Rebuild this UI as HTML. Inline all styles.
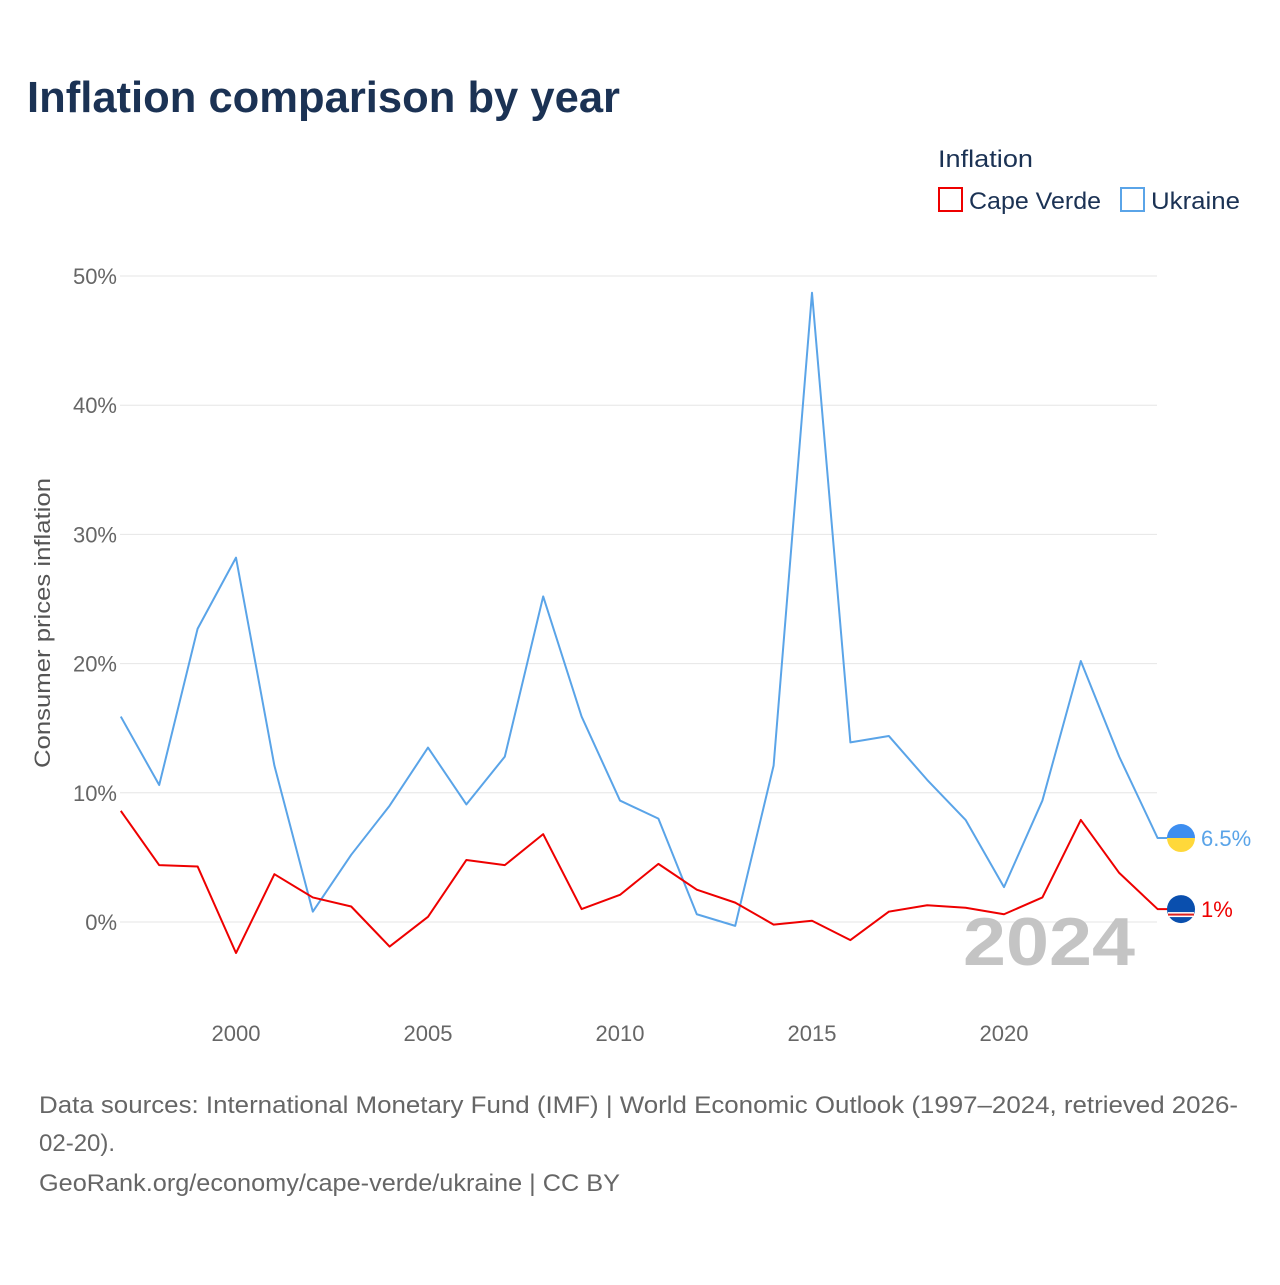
<!DOCTYPE html>
<html><head><meta charset="utf-8"><style>
body{margin:0;background:#fff;width:1280px;height:1280px;overflow:hidden;font-family:"Liberation Sans",sans-serif}
</style></head><body>
<svg width="1280" height="1280" xmlns="http://www.w3.org/2000/svg">
<text x="27" y="112" font-size="44" font-weight="bold" fill="#1b3254" textLength="593" lengthAdjust="spacingAndGlyphs">Inflation comparison by year</text>
<text x="938" y="167" font-size="24" fill="#1b3254" textLength="95" lengthAdjust="spacingAndGlyphs">Inflation</text>
<g><rect x="939" y="188" width="23" height="23" fill="none" stroke="#e00" stroke-width="2"/><text x="969" y="209" font-size="24" fill="#1b3254" textLength="132" lengthAdjust="spacingAndGlyphs">Cape Verde</text></g>
<g><rect x="1121" y="188" width="23" height="23" fill="none" stroke="#5aa4e8" stroke-width="2"/><text x="1151" y="209" font-size="24" fill="#1b3254" textLength="89" lengthAdjust="spacingAndGlyphs">Ukraine</text></g>
<g id="grid"></g><g id="ylabels"></g><g id="xlabels"></g>
<text transform="translate(50,623) rotate(-90)" text-anchor="middle" font-size="22" fill="#555" textLength="290" lengthAdjust="spacingAndGlyphs">Consumer prices inflation</text>
<text x="963" y="965" font-size="68" font-weight="bold" fill="#c4c4c4" textLength="172" lengthAdjust="spacingAndGlyphs">2024</text>
<g id="lines"></g>
<text x="39" y="1113" font-size="24" fill="#666" textLength="1199" lengthAdjust="spacingAndGlyphs">Data sources: International Monetary Fund (IMF) | World Economic Outlook (1997–2024, retrieved 2026-</text>
<text x="39" y="1151" font-size="24" fill="#666">02-20).</text>
<text x="39" y="1191" font-size="24" fill="#666" textLength="581" lengthAdjust="spacingAndGlyphs">GeoRank.org/economy/cape-verde/ukraine | CC BY</text>
</svg>
<script>
const years=[1997,1998,1999,2000,2001,2002,2003,2004,2005,2006,2007,2008,2009,2010,2011,2012,2013,2014,2015,2016,2017,2018,2019,2020,2021,2022,2023,2024];
const ukraine=[15.9,10.6,22.7,28.2,12.1,0.8,5.2,9.0,13.5,9.1,12.8,25.2,15.9,9.4,8.0,0.6,-0.3,12.1,48.7,13.9,14.4,11.0,7.9,2.7,9.4,20.2,12.8,6.5];
const capeVerde=[8.6,4.4,4.3,-2.4,3.7,1.9,1.2,-1.9,0.4,4.8,4.4,6.8,1.0,2.1,4.5,2.5,1.5,-0.2,0.1,-1.4,0.8,1.3,1.1,0.6,1.9,7.9,3.8,1.0];
const yTicks=[0,10,20,30,40,50];
const xTicks=[2000,2005,2010,2015,2020];
const NS="http://www.w3.org/2000/svg";
const X=y=>120.8+(y-1997)*38.4;
const Y=v=>922-v*12.92;
function mk(t,a,p){const e=document.createElementNS(NS,t);for(const k in a)e.setAttribute(k,a[k]);p.appendChild(e);return e;}
const grid=document.getElementById('grid'),yl=document.getElementById('ylabels'),xl=document.getElementById('xlabels'),lines=document.getElementById('lines');
yTicks.forEach(v=>{
 const l=mk('line',{x1:120,x2:1157,y1:Y(v),y2:Y(v),stroke:'#e6e6e6','stroke-width':1},grid);
 
 
 const t=mk('text',{x:117,y:Y(v)+8,'text-anchor':'end','font-size':22,fill:'#666'},yl);t.textContent=v+'%';
 
 
});
xTicks.forEach(v=>{
 const t=mk('text',{x:X(v),y:1041,'text-anchor':'middle','font-size':22,fill:'#666'},xl);t.textContent=v;
 
 
});
function series(vals,color,name){
 let d=vals.map((v,i)=>(i?'L':'M')+X(years[i])+','+Y(v)).join(' ');
 d+=' L1168,'+Y(vals[vals.length-1]);
 const p=mk('path',{d:d,fill:'none',stroke:color,'stroke-width':2,'stroke-linejoin':'round'},lines);
 
 
}
series(ukraine,'#5aa4e8','ukraine');
series(capeVerde,'#e00','cape-verde');
const uy=Y(ukraine[ukraine.length-1]),cy=Y(capeVerde[capeVerde.length-1]);
const fu=mk('g',{},lines);


mk('path',{d:`M1167,${uy} a14,14 0 0 1 28,0 z`,fill:'#3d8ef0'},fu);
mk('path',{d:`M1167,${uy} a14,14 0 0 0 28,0 z`,fill:'#ffd83a'},fu);
const fc=mk('g',{},lines);


mk('circle',{cx:1181,cy:cy,r:14,fill:'#0a4fae'},fc);
mk('rect',{x:1168,y:cy+3,width:26,height:5,fill:'#fff'},fc);
mk('rect',{x:1168,y:cy+4.5,width:26,height:2,fill:'#d22'},fc);
const t1=mk('text',{x:1201,y:uy+8,'font-size':22,fill:'#5aa4e8'},lines);t1.textContent=ukraine[ukraine.length-1]+'%';


const t2=mk('text',{x:1201,y:cy+8,'font-size':22,fill:'#e00'},lines);t2.textContent=capeVerde[capeVerde.length-1]+'%';


</script>
</body></html>
